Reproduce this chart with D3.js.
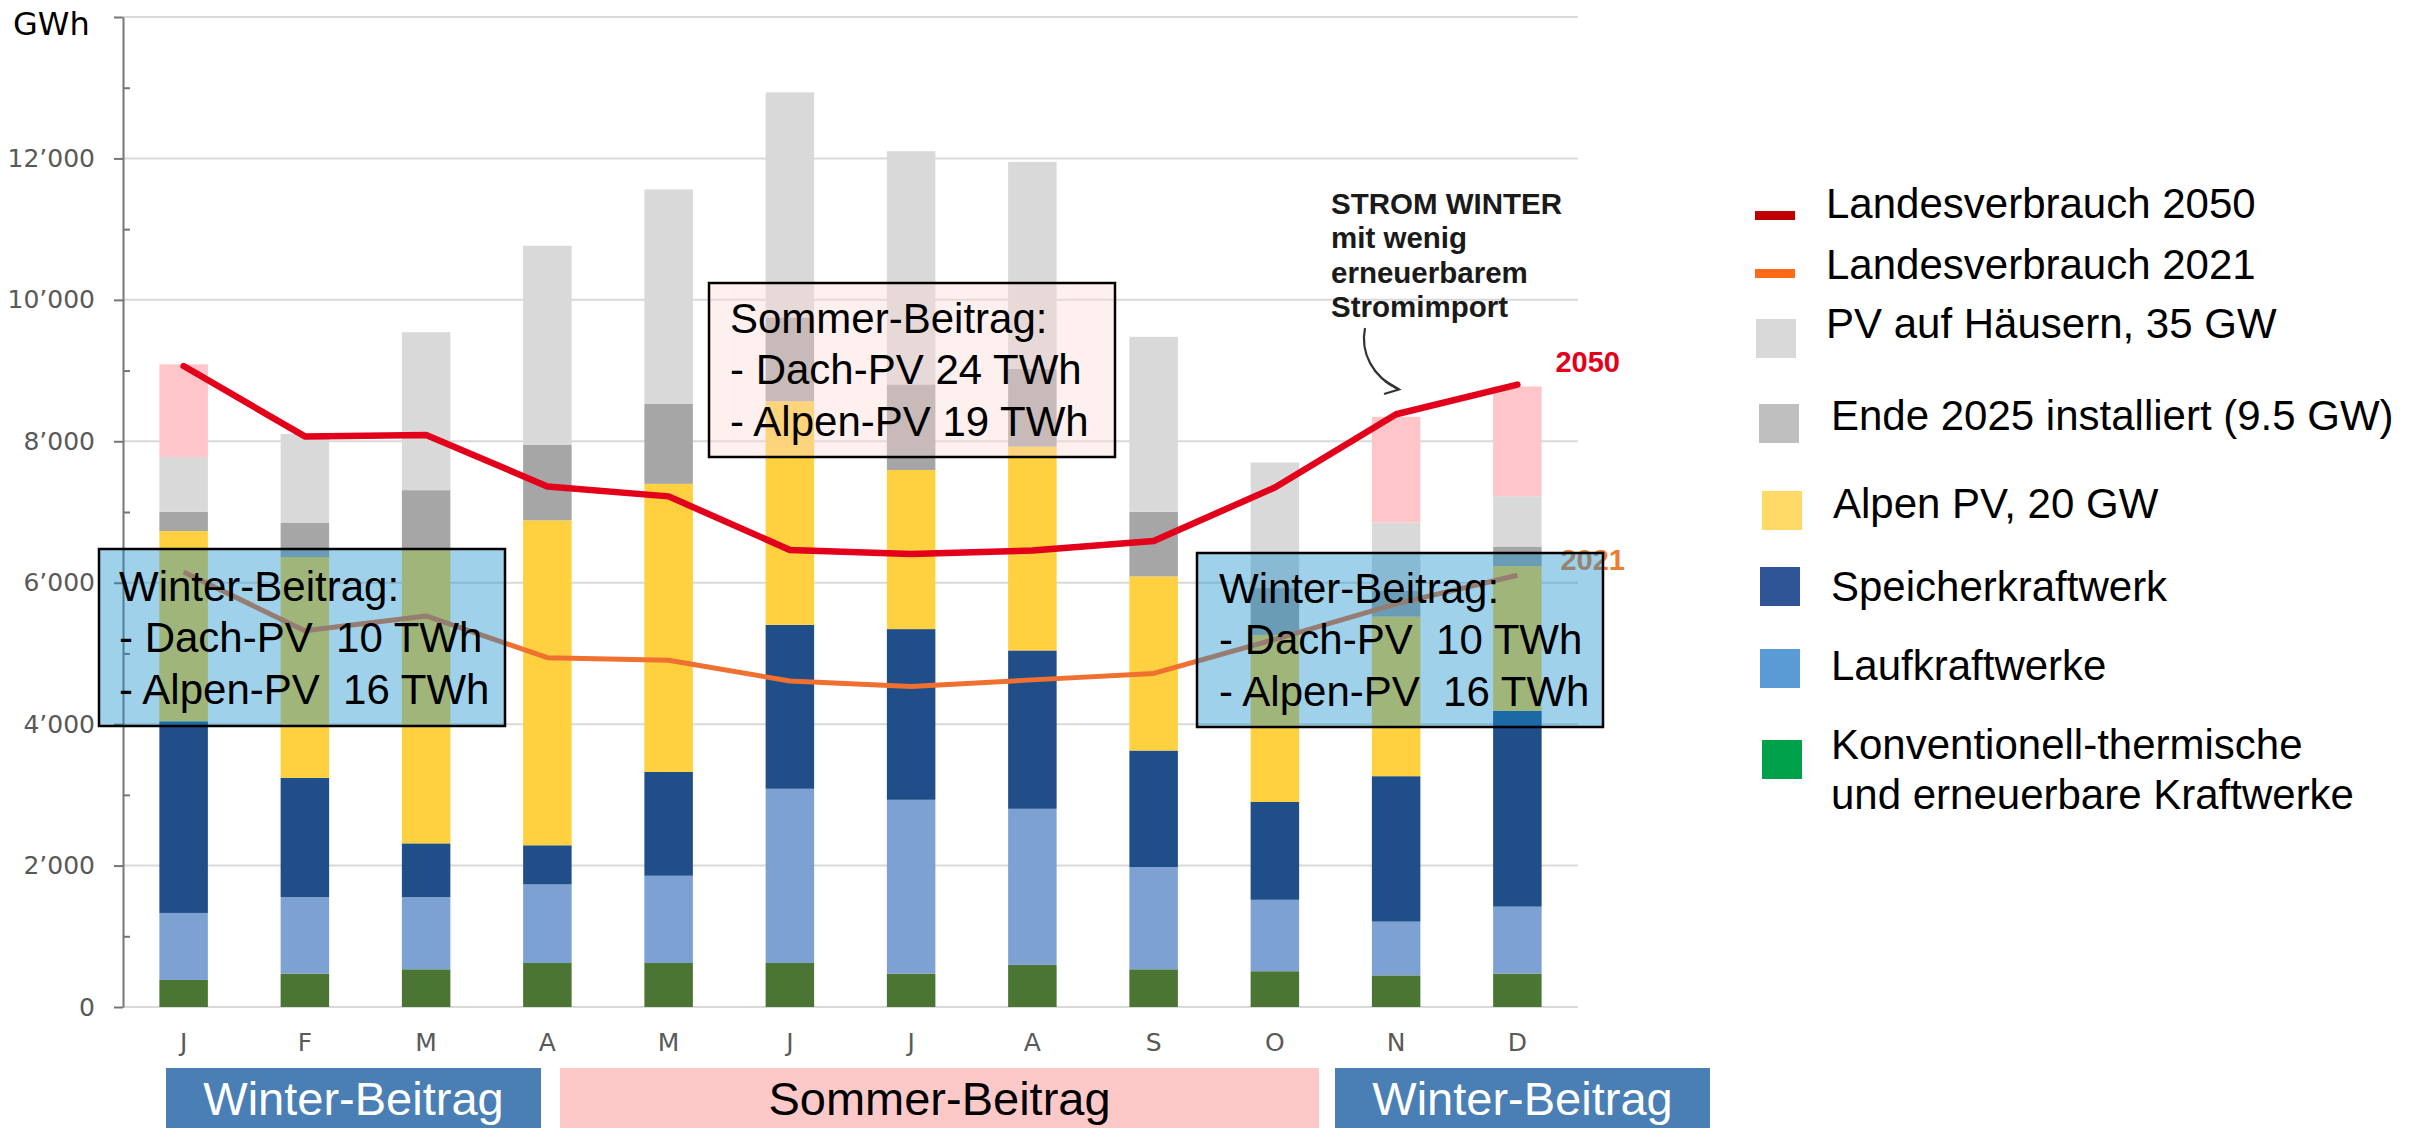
<!DOCTYPE html>
<html lang="de">
<head>
    <meta charset="utf-8">
    <title>Strom pro Monat: Produktion und Landesverbrauch</title>
    <script src="https://d3js.org/d3.v7.min.js"></script>
    <style>
    body {
        margin: 0;
        background: #fff;
    }
    svg {
        display: block;
        font-family: "Liberation Sans", Arial, sans-serif;
    }
    .axis text {
        fill: #595959;
        font-family: "DejaVu Sans", sans-serif;
        font-size: 25px;
    }
    .box-text, .legend text {
        font-size: 42px;
        fill: #000;
    }
    .band-text {
        font-size: 47px;
    }
    .note {
        font-size: 29.5px;
        font-weight: bold;
        fill: #1a1a1a;
    }
    </style>
</head>
<body>
<script>

// monthly values in GWh
var months = ["J", "F", "M", "A", "M", "J", "J", "A", "S", "O", "N", "D"];

var konventionell = [383, 473, 533, 622, 622, 622, 473, 596, 533, 506, 447, 473];
var laufkraft     = [947, 1080, 1020, 1112, 1234, 2464, 2457, 2207, 1446, 1010, 760, 946];
var speicher      = [2710, 1687, 761, 553, 1468, 2318, 2414, 2239, 1648, 1383, 2057, 2769];
var alpenPV       = [2690, 3122, 4166, 4595, 4074, 3162, 2250, 2882, 2462, 2363, 2257, 2047];
var ende2025      = [274, 489, 829, 1071, 1135, 1187, 1211, 1098, 914, 662, 362, 277];
var pvHaeuser     = [772, 1253, 2234, 2812, 3029, 3182, 3297, 2929, 2474, 1776, 969, 712];
var stromimport   = [1312, 0, 0, 0, 0, 0, 0, 0, 0, 0, 1494, 1552];

var verbrauch2050 = [9064, 8069, 8089, 7362, 7221, 6463, 6405, 6456, 6591, 7347, 8382, 8801];
var verbrauch2021 = [6150, 5320, 5530, 4940, 4903, 4611, 4532, 4626, 4717, 5200, 5700, 6105];

var yTicks = [0, 2000, 4000, 6000, 8000, 10000, 12000, 14000];
var yMinorTicks = [1000, 3000, 5000, 7000, 9000, 11000, 13000];

var keys = ["konventionell", "laufkraft", "speicher", "alpenPV", "ende2025", "pvHaeuser", "stromimport"];
var barColors = {
    konventionell: "#4b7533",
    laufkraft: "#7ea1d3",
    speicher: "#1f4e89",
    alpenPV: "#ffd040",
    ende2025: "#a6a6a6",
    pvHaeuser: "#d9d9d9",
    stromimport: "#ffc5c8"
};

var legendItems = [
    {type: "line", color: "#c00000", label: ["Landesverbrauch 2050"]},
    {type: "line", color: "#fe6a17", label: ["Landesverbrauch 2021"]},
    {type: "box", color: "#d9d9d9", label: ["PV auf Häusern, 35 GW"]},
    {type: "box", color: "#bfbfbf", label: ["Ende 2025 installiert (9.5 GW)"]},
    {type: "box", color: "#ffd966", label: ["Alpen PV, 20 GW"]},
    {type: "box", color: "#2f5597", label: ["Speicherkraftwerk"]},
    {type: "box", color: "#5b9bd5", label: ["Laufkraftwerke"]},
    {type: "box", color: "#00a14b", label: ["Konventionell-thermische", "und erneuerbare Kraftwerke"]}
];
// vertical placement of the legend rows (symbol top, text baseline)
var legendRows = [
    {sy: 211, ty: 218, sx: 1755, tx: 1826},
    {sy: 269, ty: 279, sx: 1755, tx: 1826},
    {sy: 319, ty: 338, sx: 1756, tx: 1826},
    {sy: 404, ty: 430, sx: 1759, tx: 1831},
    {sy: 491, ty: 518, sx: 1762, tx: 1833},
    {sy: 567, ty: 601, sx: 1760, tx: 1831},
    {sy: 649, ty: 680, sx: 1760, tx: 1831},
    {sy: 740, ty: 759, sx: 1762, tx: 1831}
];

var width = 2417,
    height = 1128;

var svg = d3.select("body")
    .append("svg")
    .attr("width", width)
    .attr("height", height);

var x = d3.scaleBand()
    .domain(d3.range(months.length))
    .range([123, 1578])
    .paddingInner(0.6)
    .paddingOuter(0.3);

var y = d3.scaleLinear()
    .domain([0, 14000])
    .range([1007, 17]);

var fmt = d3.formatLocale({decimal: ".", thousands: "\u2019", grouping: [3], currency: ["", ""]}).format(",");

// gridlines
svg.append("g")
    .selectAll("line")
    .data(yTicks)
    .enter()
    .append("line")
    .attr("x1", 123)
    .attr("x2", 1578)
    .attr("y1", function(d) { return y(d); })
    .attr("y2", function(d) { return y(d); })
    .attr("stroke", "#d9d9d9")
    .attr("stroke-width", 2);

// y axis
var yAxis = svg.append("g")
    .attr("class", "axis")
    .attr("transform", "translate(123,0)")
    .call(d3.axisLeft(y)
        .tickValues(yTicks)
        .tickSizeInner(9)
        .tickSizeOuter(0)
        .tickPadding(19)
        .tickFormat(function(d) { return d === 14000 ? "" : fmt(d); }));
yAxis.select(".domain").attr("stroke", "#767676").attr("stroke-width", 2);
yAxis.selectAll(".tick line").attr("stroke", "#767676").attr("stroke-width", 2);

svg.append("g")
    .attr("transform", "translate(123,0)")
    .call(d3.axisLeft(y).tickValues(yMinorTicks).tickSize(-7).tickFormat(""))
    .call(function(g) { g.select(".domain").remove(); })
    .selectAll(".tick line").attr("stroke", "#767676").attr("stroke-width", 2);

svg.append("text")
    .attr("x", 13)
    .attr("y", 35)
    .attr("font-family", "DejaVu Sans, sans-serif")
    .attr("font-size", 32)
    .attr("fill", "#000")
    .text("GWh");

// x axis
var xAxis = svg.append("g")
    .attr("class", "axis")
    .attr("transform", "translate(0,1007)")
    .call(d3.axisBottom(x)
        .tickSize(0)
        .tickPadding(26)
        .tickFormat(function(i) { return months[i]; }));
xAxis.select(".domain").remove();

// stacked bars
var rows = months.map(function(m, i) {
    return {
        konventionell: konventionell[i],
        laufkraft: laufkraft[i],
        speicher: speicher[i],
        alpenPV: alpenPV[i],
        ende2025: ende2025[i],
        pvHaeuser: pvHaeuser[i],
        stromimport: stromimport[i]
    };
});
var series = d3.stack().keys(keys)(rows);

svg.append("g")
    .selectAll("g")
    .data(series)
    .enter()
    .append("g")
    .attr("fill", function(d) { return barColors[d.key]; })
    .selectAll("rect")
    .data(function(d) { return d; })
    .enter()
    .append("rect")
    .attr("x", function(d, i) { return x(i); })
    .attr("width", x.bandwidth())
    .attr("y", function(d) { return y(d[1]); })
    .attr("height", function(d) { return y(d[0]) - y(d[1]); });

// consumption lines
var line = d3.line()
    .x(function(d, i) { return x(i) + x.bandwidth() / 2; })
    .y(function(d) { return y(d); });

svg.append("path")
    .datum(verbrauch2021)
    .attr("d", line)
    .attr("fill", "none")
    .attr("stroke", "#f07030")
    .attr("stroke-width", 5)
    .attr("stroke-linejoin", "round");

svg.append("path")
    .datum(verbrauch2050)
    .attr("d", line)
    .attr("fill", "none")
    .attr("stroke", "#e2001a")
    .attr("stroke-width", 6.5)
    .attr("stroke-linejoin", "round")
    .attr("stroke-linecap", "round");

var lastX = x(11) + x.bandwidth() / 2;
svg.append("text")
    .attr("x", lastX + 38)
    .attr("y", y(verbrauch2050[11]) - 13)
    .attr("font-size", 29)
    .attr("font-weight", "bold")
    .attr("fill", "#e2001a")
    .text("2050");
svg.append("text")
    .attr("x", lastX + 43)
    .attr("y", y(verbrauch2021[11]) - 5)
    .attr("font-size", 29)
    .attr("font-weight", "bold")
    .attr("fill", "#ed7d31")
    .text("2021");

// annotation with arrow
var note = ["STROM WINTER", "mit wenig", "erneuerbarem", "Stromimport"];
svg.append("g")
    .selectAll("text")
    .data(note)
    .enter()
    .append("text")
    .attr("class", "note")
    .attr("x", 1331)
    .attr("y", function(d, i) { return 214 + i * 34.3; })
    .text(function(d) { return d; });

svg.append("path")
    .attr("d", "M1365,328 C1360,353 1373,377 1398,389")
    .attr("fill", "none")
    .attr("stroke", "#333")
    .attr("stroke-width", 2.2);
svg.append("path")
    .attr("d", "M1385,381 L1399,389.5 L1384,394")
    .attr("fill", "none")
    .attr("stroke", "#333")
    .attr("stroke-width", 2.2);

// info boxes
var boxes = [
    {x: 99, y: 549, w: 406, h: 177, fill: "rgb(21,143,206)", op: 0.41, tx: 119, ty: 601,
     lines: ["Winter-Beitrag:", "- Dach-PV  10 TWh", "- Alpen-PV  16 TWh"]},
    {x: 709, y: 283, w: 406, h: 174, fill: "rgb(250,217,212)", op: 0.4, tx: 730, ty: 333,
     lines: ["Sommer-Beitrag:", "- Dach-PV 24 TWh", "- Alpen-PV 19 TWh"]},
    {x: 1197, y: 553, w: 406, h: 174, fill: "rgb(21,143,206)", op: 0.41, tx: 1219, ty: 603,
     lines: ["Winter-Beitrag:", "- Dach-PV  10 TWh", "- Alpen-PV  16 TWh"]}
];

var box = svg.append("g")
    .selectAll("g")
    .data(boxes)
    .enter()
    .append("g");
box.append("rect")
    .attr("x", function(d) { return d.x; })
    .attr("y", function(d) { return d.y; })
    .attr("width", function(d) { return d.w; })
    .attr("height", function(d) { return d.h; })
    .attr("fill", function(d) { return d.fill; })
    .attr("fill-opacity", function(d) { return d.op; })
    .attr("stroke", "#000")
    .attr("stroke-width", 2.5);
box.each(function(d) {
    d3.select(this).selectAll("text")
        .data(d.lines)
        .enter()
        .append("text")
        .attr("class", "box-text")
        .attr("xml:space", "preserve")
        .attr("x", d.tx)
        .attr("y", function(t, i) { return d.ty + i * 51.3; })
        .text(function(t) { return t; });
});

// season bands under the axis
var bands = [
    {x0: 166, x1: 541, fill: "#4a7fb6", color: "#fff", label: "Winter-Beitrag"},
    {x0: 560, x1: 1319, fill: "#fdc9c8", color: "#000", label: "Sommer-Beitrag"},
    {x0: 1335, x1: 1710, fill: "#4a7fb6", color: "#fff", label: "Winter-Beitrag"}
];
var band = svg.append("g")
    .selectAll("g")
    .data(bands)
    .enter()
    .append("g");
band.append("rect")
    .attr("x", function(d) { return d.x0; })
    .attr("y", 1068)
    .attr("width", function(d) { return d.x1 - d.x0; })
    .attr("height", 60)
    .attr("fill", function(d) { return d.fill; });
band.append("text")
    .attr("class", "band-text")
    .attr("x", function(d) { return (d.x0 + d.x1) / 2; })
    .attr("y", 1115)
    .attr("text-anchor", "middle")
    .attr("fill", function(d) { return d.color; })
    .text(function(d) { return d.label; });

// legend
var legend = svg.append("g")
    .attr("class", "legend")
    .selectAll("g")
    .data(legendItems)
    .enter()
    .append("g");

legend.append("rect")
    .attr("x", function(d, i) { return legendRows[i].sx; })
    .attr("y", function(d, i) { return legendRows[i].sy; })
    .attr("width", 40)
    .attr("height", function(d) { return d.type === "line" ? 9 : 39; })
    .attr("fill", function(d) { return d.color; });

legend.each(function(d, i) {
    d3.select(this).selectAll("text")
        .data(d.label)
        .enter()
        .append("text")
        .attr("x", legendRows[i].tx)
        .attr("y", function(t, j) { return legendRows[i].ty + j * 50; })
        .text(function(t) { return t; });
});

</script>
</body>
</html>
